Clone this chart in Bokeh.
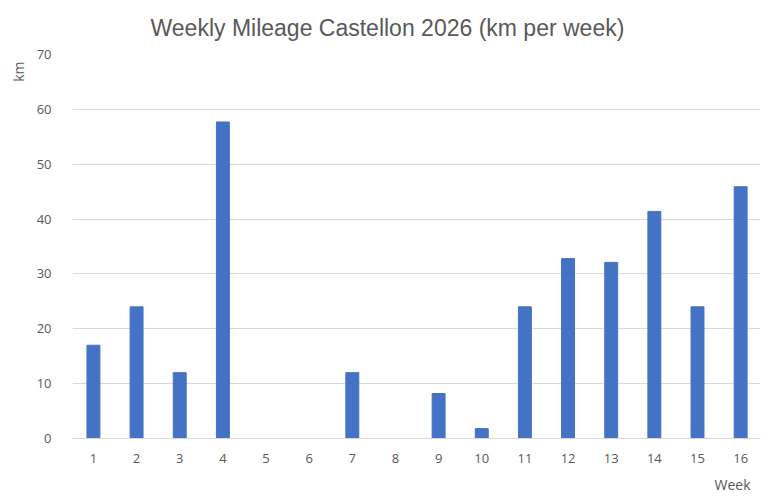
from bokeh.plotting import figure
from bokeh.models import FixedTicker, Range1d, Title
from bokeh.embed import file_html
from bokeh.resources import INLINE

weeks = list(range(1, 17))
km = [17, 24, 12, 57.7, 0, 0, 12, 0, 8.2, 1.8, 24, 32.8, 32.1, 41.4, 24, 45.9]
y_ticks = [0, 10, 20, 30, 40, 50, 60, 70]

TEXT = "#595959"
BAR = "#4472C4"
GRID = "#D9D9D9"

p = figure(width=763, height=500, output_backend="svg", toolbar_location=None,
           x_range=Range1d(0.515, 16.46), y_range=Range1d(0, 70),
           min_border_left=70, min_border_right=3, min_border_top=54, min_border_bottom=62)
p.outline_line_color = None
p.background_fill_color = "white"
p.border_fill_color = "white"

p.vbar(x=weeks, top=km, width=0.3, color=BAR)

p.xgrid.grid_line_color = None
p.ygrid.grid_line_color = GRID
p.ygrid.grid_line_width = 1

p.xaxis.ticker = FixedTicker(ticks=weeks)
p.yaxis.ticker = FixedTicker(ticks=y_ticks)
for ax in (p.xaxis, p.yaxis):
    ax.major_tick_line_color = None
    ax.minor_tick_line_color = None
    ax.major_label_text_color = TEXT
    ax.major_label_text_font = "Open Sans"
    ax.major_label_text_font_size = "13px"
p.xaxis.axis_line_color = GRID
p.yaxis.axis_line_color = None
p.yaxis.major_label_standoff = 15
p.xaxis.major_label_standoff = 9

p.add_layout(Title(text="Weekly Mileage Castellon 2026 (km per week)", align="left",
                   vertical_align="top", offset=78, standoff=24, text_color=TEXT,
                   text_font="Liberation Sans", text_font_size="23px",
                   text_font_style="normal"), "above")
p.add_layout(Title(text="Week", align="right", offset=10, standoff=14,
                   text_color=TEXT, text_font="Open Sans", text_font_size="14px",
                   text_font_style="normal"), "below")
p.add_layout(Title(text="km", align="right", offset=7, standoff=12,
                   text_color=TEXT, text_font="Open Sans", text_font_size="14px",
                   text_font_style="normal"), "left")

open("out.html", "w").write(file_html(p, INLINE))
